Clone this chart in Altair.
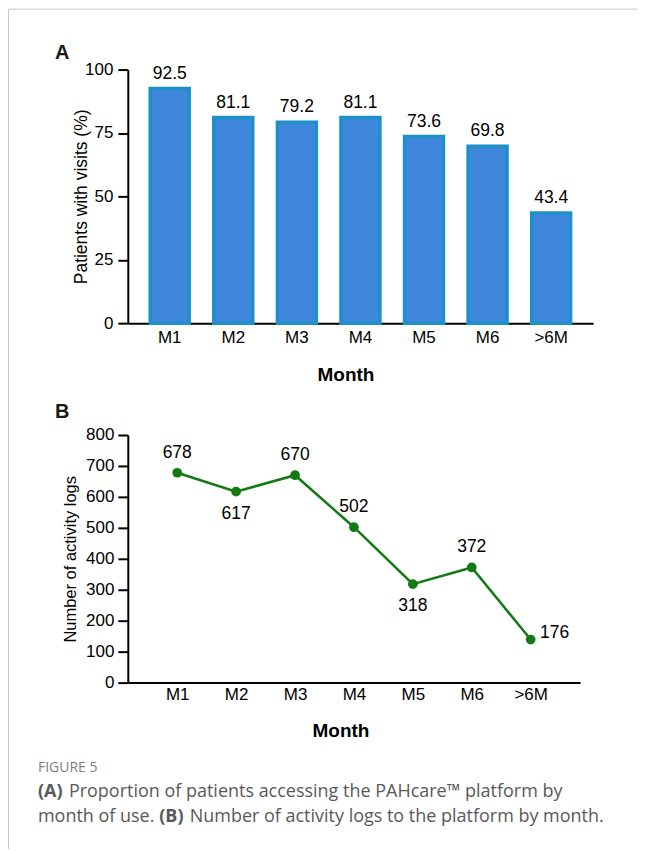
import altair as alt
import pandas as pd

# ---------------- data ----------------
months = ["M1", "M2", "M3", "M4", "M5", "M6", ">6M"]
pct_visits = [92.5, 81.1, 79.2, 81.1, 73.6, 69.8, 43.4]
activity_points = [678, 617, 670, 502, 318, 372, 139]          # where the dots are drawn
activity_labels = ["678", "617", "670", "502", "318", "372", "176"]  # printed labels
labels_above = ["M1", "M3", "M4", "M6"]
labels_below = ["M2", "M5"]
labels_right = [">6M"]

pct_ticks = [0, 25, 50, 75, 100]
log_ticks = [0, 100, 200, 300, 400, 500, 600, 700, 800]

caption_head = "FIGURE 5"
cap1_bold = "(A)"
cap1_rest = "Proportion of patients accessing the PAHcare\u2122 platform by"
cap2_a = "month of use."
cap2_bold = "(B)"
cap2_rest = "Number of activity logs to the platform by month."

FONT = "Liberation Sans"
CAPFONT = "Open Sans"

dfA = pd.DataFrame({"month": months, "pct": pct_visits})
dfB = pd.DataFrame({"month": months, "logs": activity_points, "label": activity_labels})
one = pd.DataFrame({"k": [0]})

# ---------------- panel A ----------------
xA = alt.X(
    "month:N", sort=months,
    scale=alt.Scale(paddingInner=0.3875, paddingOuter=0.353),
    axis=alt.Axis(
        title="Month", labelAngle=0, ticks=False, labelPadding=6,
        labelFont=FONT, labelFontSize=17, labelColor="#000",
        titleFont=FONT, titleFontSize=19, titleFontWeight="bold", titleColor="#000",
        titleX=218, titleY=51.5, titleAlign="center", titleBaseline="middle",
        domainColor="#000", domainWidth=2,
    ),
)
yA = alt.Y(
    "pct:Q",
    scale=alt.Scale(domain=[0, 100]),
    axis=alt.Axis(
        values=pct_ticks, title="Patients with visits (%)", grid=False,
        tickSize=10, tickWidth=2, tickColor="#000", labelPadding=5,
        labelFont=FONT, labelFontSize=17, labelColor="#000",
        titleFont=FONT, titleFontSize=17.5, titleFontWeight="normal", titleColor="#000",
        titleX=-46, titleBaseline="middle",
        domainColor="#000", domainWidth=2,
    ),
)

frame_top = alt.Chart(one).mark_rule(color="#c8c8c8", strokeWidth=1).encode(
    x=alt.value(-119.5), x2=alt.value(510), y=alt.value(-60.5)
)
frame_left = alt.Chart(one).mark_rule(color="#c8c8c8", strokeWidth=1).encode(
    x=alt.value(-119.5), y=alt.value(-60.5), y2=alt.value(781)
)
bars = alt.Chart(dfA).mark_bar(fill="#3e87dc", stroke="#1e90c8", strokeWidth=3.5).encode(
    x=xA, y=yA
)
bar_text = alt.Chart(dfA).mark_text(
    dy=-15, baseline="middle", font=FONT, fontSize=17.5, color="#000"
).encode(x=xA, y=yA, text=alt.Text("pct:Q", format=".1f"))
tag_a = alt.Chart(one).mark_text(
    text="A", align="left", baseline="alphabetic", font=FONT, fontSize=20,
    fontWeight="bold", color="#1a1a1a"
).encode(x=alt.value(-73), y=alt.value(-10.5))

chartA = alt.layer(frame_top, frame_left, bars, bar_text, tag_a).properties(width=466, height=254)

# ---------------- panel B ----------------
xB = alt.X(
    "month:N", sort=months,
    scale=alt.Scale(type="point", padding=0.839),
    axis=alt.Axis(
        title="Month", labelAngle=0, ticks=False, labelPadding=4,
        labelFont=FONT, labelFontSize=17, labelColor="#000",
        titleFont=FONT, titleFontSize=19, titleFontWeight="bold", titleColor="#000",
        titleX=213, titleY=47.5, titleAlign="center", titleBaseline="middle",
        domainColor="#000", domainWidth=2,
    ),
)
yB = alt.Y(
    "logs:Q",
    scale=alt.Scale(domain=[0, 800]),
    axis=alt.Axis(
        values=log_ticks, title="Number of activity logs", grid=False,
        tickSize=10, tickWidth=2, tickColor="#000", labelPadding=4,
        labelFont=FONT, labelFontSize=17, labelColor="#000",
        titleFont=FONT, titleFontSize=16.5, titleFontWeight="normal", titleColor="#000",
        titleX=-57, titleBaseline="middle",
        domainColor="#000", domainWidth=2,
    ),
)
GREEN = "#137a13"
line = alt.Chart(dfB).mark_line(color=GREEN, strokeWidth=2.5).encode(x=xB, y=yB)
pts = alt.Chart(dfB).mark_circle(color=GREEN, size=95, opacity=1).encode(x=xB, y=yB)


def lab(sel, dx, dy):
    return alt.Chart(dfB).transform_filter(
        alt.FieldOneOfPredicate(field="month", oneOf=sel)
    ).mark_text(dx=dx, dy=dy, baseline="middle", font=FONT, fontSize=17.5, color="#000").encode(
        x=xB, y=yB, text="label:N"
    )


lab_above = lab(labels_above, 0, -20)
lab_below = lab(labels_below, 0, 22)
lab_right = lab(labels_right, 24, -7)

tag_b = alt.Chart(one).mark_text(
    text="B", align="left", baseline="alphabetic", font=FONT, fontSize=20,
    fontWeight="bold", color="#1a1a1a"
).encode(x=alt.value(-73), y=alt.value(-17))


def cap(txt, x, y, size, color, weight="normal"):
    return alt.Chart(one).mark_text(
        text=txt, align="left", baseline="middle", font=CAPFONT, fontSize=size,
        fontWeight=weight, color=color
    ).encode(x=alt.value(x), y=alt.value(y))


caps = [
    cap(caption_head, -90, 334, 14, "#808080"),
    cap(cap1_bold, -90, 358, 18, "#595959", "bold"),
    cap(cap1_rest, -59, 358, 18, "#595959"),
    cap(cap2_a, -90, 383, 18, "#595959"),
    cap(cap2_bold, 31.5, 383, 18, "#595959", "bold"),
    cap(cap2_rest, 62, 383, 18, "#595959"),
]

chartB = alt.layer(line, pts, lab_above, lab_below, lab_right, tag_b, *caps).properties(
    width=453, height=248
)

chart = alt.vconcat(chartA, chartB, spacing=112, bounds="flush").properties(
    padding=0
).configure_view(strokeWidth=0)

chart.save("out.html", embed_options={"renderer": "svg", "actions": False})
